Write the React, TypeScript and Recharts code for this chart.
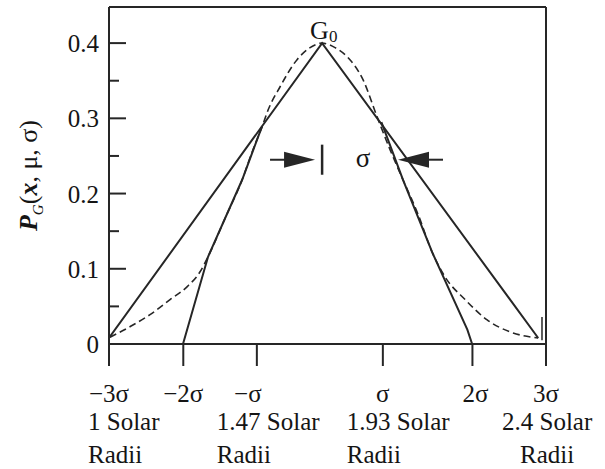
import React from 'react';
import { ComposedChart, Line, XAxis, YAxis, ReferenceLine, ReferenceDot } from 'recharts';

// positions in sigma units, as drawn in the figure
const xTickValues = [-3, -1.98, -0.97, 0.76, 1.99, 3];
const xTickLabels = ['−3σ', '−2σ', '−σ', 'σ', '2σ', '3σ'];
const radiusLabels = ['1 Solar', '', '1.47 Solar', '1.93 Solar', '', '2.4 Solar'];
const yTickValues = [0, 0.05, 0.1, 0.15, 0.2, 0.25, 0.3, 0.35, 0.4];

const gaussX = [
  -2.986, -2.712, -2.437, -2.162, -1.929, -1.75, -1.64, -1.407, -1.173, -1.036, -0.898, -0.816,
  -0.651, -0.418, -0.239, -0.074, 0.104, 0.269, 0.489, 0.681, 0.86, 1.038, 1.245, 1.437, 1.615,
  1.89, 2.192, 2.508, 2.893,
];
const gaussY = [
  0.009, 0.023, 0.039, 0.059, 0.076, 0.096, 0.116, 0.167, 0.218, 0.255, 0.289, 0.311,
  0.342, 0.378, 0.394, 0.4, 0.394, 0.382, 0.351, 0.302, 0.258, 0.218, 0.172, 0.122, 0.089,
  0.059, 0.032, 0.016, 0.008,
];

const outerX = [-3, -0.074, 2.893];
const outerY = [0.008, 0.4, 0.008];

const innerLeftX = [-1.984, -1.64, -1.173, -0.9];
const innerLeftY = [0, 0.116, 0.218, 0.289];
const innerRightX = [1.986, 1.92, 1.437, 1.038, 0.74];
const innerRightY = [0, 0.019, 0.122, 0.218, 0.295];

const peak = { x: -0.074, y: 0.4 };
const arrowY = 0.245;
const leftShaft = [-0.789, -0.3];
const rightShaft = [1.2, 1.586];
const leftTip = -0.171;
const rightTip = 0.968;
const barY = [0.225, 0.265];
const sigmaLabelX = 0.488;
const edgeMarkX = 2.945;
const edgeMarkY = [0.005, 0.036];

const Y_MAX = 0.448;

const toPoints = (xs: number[], ys: number[]) => xs.map((x, i) => ({ x, y: ys[i] }));

const gauss = toPoints(gaussX, gaussY);
const outer = toPoints(outerX, outerY);
const innerLeft = toPoints(innerLeftX, innerLeftY);
const innerRight = toPoints(innerRightX, innerRightY);

const INK = '#262626';
const TEXT = '#151515';
const FONT = '"Liberation Serif", "Times New Roman", serif';

// per-tick nudges for the two-line radius captions
const mainDx = [0, 0, -9, 0, 3, 0];
const solarDx = [-21, 0, -40, -36, 0, -44];
const radiiDx = [-21, 0, -40, -36, 0, -26];

const XTick = ({ x, y, payload }: any) => {
  const i = xTickValues.indexOf(payload.value);
  return (
    <g fontFamily={FONT} fontSize={25} fill={TEXT}>
      <text x={x + mainDx[i]} y={y + 36} textAnchor="middle">{xTickLabels[i]}</text>
      {radiusLabels[i] && (
        <>
          <text x={x + solarDx[i]} y={y + 64} textAnchor="start">{radiusLabels[i]}</text>
          <text x={x + radiiDx[i]} y={y + 97} textAnchor="start">Radii</text>
        </>
      )}
    </g>
  );
};

const YTick = ({ x, y, payload, index }: any) => {
  const major = index % 2 === 0;
  const label = payload.value === 0 ? '0' : payload.value.toFixed(1);
  return (
    <g>
      <line x1={x} x2={x + (major ? 17 : 10)} y1={y} y2={y} stroke={INK} strokeWidth={2} />
      {major && (
        <text x={x - 10} y={y + 9} textAnchor="end" fontFamily={FONT} fontSize={25} fill={TEXT}>
          {label}
        </text>
      )}
    </g>
  );
};

const YLabel = ({ viewBox }: any) => {
  const cx = viewBox.x + 37;
  const cy = viewBox.y + viewBox.height / 2;
  return (
    <text
      x={cx}
      y={cy}
      transform={`rotate(-90, ${cx}, ${cy})`}
      textAnchor="middle"
      fontFamily={FONT}
      fontSize={26}
      fill={TEXT}
    >
      <tspan fontStyle="italic" fontWeight="bold">P</tspan>
      <tspan fontSize={15} dy={6} fontStyle="italic">G</tspan>
      <tspan dy={-6}>(</tspan>
      <tspan fontStyle="italic" fontWeight="bold">x</tspan>
      <tspan>, μ, σ)</tspan>
    </text>
  );
};

const ArrowHead = (dir: 'left' | 'right') => ({ cx, cy }: any) => {
  const s = dir === 'right' ? -1 : 1;
  const pts = `${cx},${cy} ${cx + s * 31},${cy - 8} ${cx + s * 31},${cy + 8}`;
  return <polygon points={pts} fill={INK} />;
};

const PeakLabel = ({ cx, cy }: any) => (
  <text x={cx - 12} y={cy - 4} fontFamily={FONT} fill={TEXT}>
    <tspan fontSize={26}>G</tspan>
    <tspan fontSize={17} dy={3}>0</tspan>
  </text>
);

const SigmaLabel = ({ cx, cy }: any) => (
  <text x={cx} y={cy + 7} textAnchor="middle" fontFamily={FONT} fontSize={27} fill={TEXT}>σ</text>
);

export default function App() {
  return (
    <div style={{ position: 'absolute', left: 0, top: 0, width: 605, height: 469, background: '#fff' }}>
      <ComposedChart width={605} height={469} margin={{ top: 7, right: 59, bottom: 0, left: 0 }}>
        <XAxis
          dataKey="x"
          type="number"
          domain={[-3, 3]}
          ticks={xTickValues}
          allowDataOverflow
          interval={0}
          height={125}
          tickSize={22}
          tickMargin={0}
          axisLine={{ stroke: INK, strokeWidth: 2 }}
          tickLine={{ stroke: INK, strokeWidth: 2 }}
          tick={<XTick />}
        />
        <YAxis
          type="number"
          domain={[0, Y_MAX]}
          ticks={yTickValues}
          allowDataOverflow
          interval={0}
          width={109}
          tickSize={0}
          tickMargin={0}
          axisLine={{ stroke: INK, strokeWidth: 2 }}
          tickLine={false}
          tick={<YTick />}
          label={{ content: <YLabel /> }}
        />
        <ReferenceLine y={Y_MAX} stroke={INK} strokeWidth={2} />
        <ReferenceLine x={3} stroke={INK} strokeWidth={2} />

        <Line data={gauss} dataKey="y" type="monotone" stroke={INK} strokeWidth={1.6}
          strokeDasharray="7 4" dot={false} isAnimationActive={false} />
        <Line data={outer} dataKey="y" type="linear" stroke={INK} strokeWidth={2}
          dot={false} isAnimationActive={false} />
        <Line data={innerLeft} dataKey="y" type="linear" stroke={INK} strokeWidth={2}
          dot={false} isAnimationActive={false} />
        <Line data={innerRight} dataKey="y" type="linear" stroke={INK} strokeWidth={2}
          dot={false} isAnimationActive={false} />

        <ReferenceLine
          segment={[{ x: edgeMarkX, y: edgeMarkY[0] }, { x: edgeMarkX, y: edgeMarkY[1] }]}
          stroke={INK} strokeWidth={1.5}
        />
        <ReferenceLine
          segment={[{ x: leftShaft[0], y: arrowY }, { x: leftShaft[1], y: arrowY }]}
          stroke={INK} strokeWidth={2}
        />
        <ReferenceLine
          segment={[{ x: rightShaft[0], y: arrowY }, { x: rightShaft[1], y: arrowY }]}
          stroke={INK} strokeWidth={2}
        />
        <ReferenceLine
          segment={[{ x: peak.x, y: barY[0] }, { x: peak.x, y: barY[1] }]}
          stroke={INK} strokeWidth={2.5}
        />
        <ReferenceDot x={leftTip} y={arrowY} r={1} shape={ArrowHead('right')} />
        <ReferenceDot x={rightTip} y={arrowY} r={1} shape={ArrowHead('left')} />
        <ReferenceDot x={sigmaLabelX} y={arrowY} r={1} shape={SigmaLabel} />
        <ReferenceDot x={peak.x} y={peak.y} r={1} shape={PeakLabel} />
      </ComposedChart>
    </div>
  );
}
